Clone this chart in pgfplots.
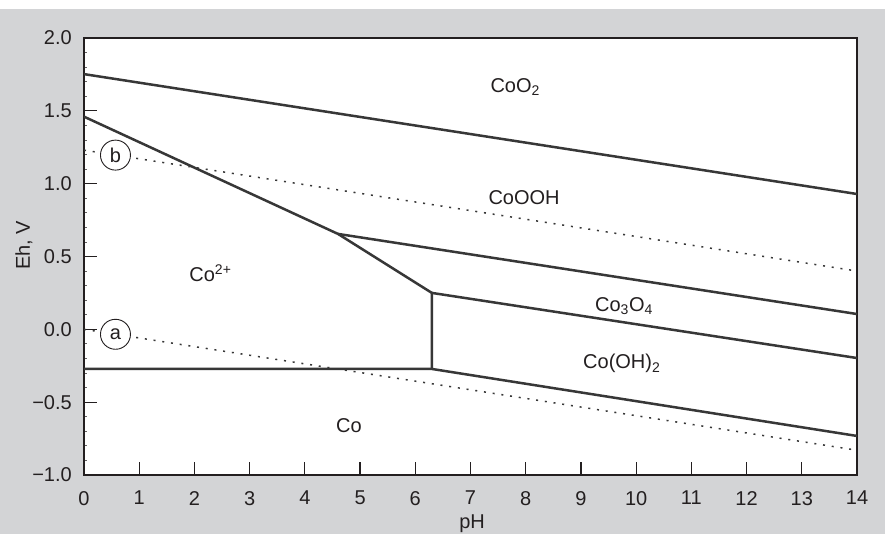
\documentclass[border=0pt]{standalone}
\usepackage{fontspec}
\setmainfont{Liberation Sans}
\usepackage{pgfplots}
\pgfplotsset{compat=1.18}
\definecolor{bg}{RGB}{211,212,214}
\definecolor{ln}{RGB}{55,55,55}
\definecolor{ax}{RGB}{35,31,32}
\begin{document}
\begin{tikzpicture}
\fill[white] (0pt,0pt) rectangle (885pt,534pt);
\fill[bg] (0pt,0pt) rectangle (885pt,525pt);
\useasboundingbox (0pt,0pt) rectangle (885pt,534pt);
\begin{axis}[
  at={(84pt,59pt)}, anchor=south west,
  scale only axis, width=773pt, height=437pt,
  xmin=0, xmax=14, ymin=-1, ymax=2,
  axis background/.style={fill=white},
  axis line style={color=ax, line width=2.6pt},
  xtick={0,1,...,14},
  ytick={-1,-0.5,0,0.5,1,1.5,2},
  yticklabels={−1.0,−0.5,0.0,0.5,1.0,1.5,2.0},
  minor y tick num=4,
  xtick pos=bottom, ytick pos=left,
  tick align=inside,
  major tick length=13pt, minor tick length=3pt,
  every tick/.style={color=ax, line width=1.2pt},
  minor tick style={line width=0.8pt, color=ax!70},
  /pgf/number format/assume math mode=true,
  tick label style={font=\fontsize{20}{24}\selectfont, text=ax, inner sep=0pt},
  xticklabel style={yshift=-16pt},
  yticklabel style={xshift=-12pt},
  xlabel={pH}, ylabel={Eh, V},
  label style={font=\fontsize{20}{24}\selectfont, text=ax, inner sep=0pt},
  xlabel style={at={(axis description cs:0.502,-0.090)}, anchor=north},
  ylabel style={at={(axis description cs:-0.0776,0.526)}, anchor=center},
]
% dotted water lines
\addplot[ln, line width=1.5pt, dash pattern=on 2pt off 6.8pt] coordinates {(0,1.23) (14,0.40)};
\addplot[ln, line width=1.5pt, dash pattern=on 2pt off 6.8pt] coordinates {(0,0.0) (14,-0.83)};
% boundaries
\addplot[ln, line width=2.5pt] coordinates {(0,1.752) (14,0.929)};
\addplot[ln, line width=2.5pt, line join=round] coordinates {(0,1.46) (4.60,0.655) (6.30,0.25) (6.30,-0.272)};
\addplot[ln, line width=2.5pt] coordinates {(4.60,0.655) (14,0.105)};
\addplot[ln, line width=2.5pt] coordinates {(6.30,0.25) (14,-0.197)};
\addplot[ln, line width=2.5pt, line join=round] coordinates {(0,-0.272) (6.30,-0.272) (14,-0.732)};
% circle markers
\node[circle, draw=ax, line width=0.9pt, fill=white, minimum size=30pt, inner sep=0pt, font=\fontsize{20}{24}\selectfont, text=ax] at (axis cs:0.57,1.196) {b};
\node[circle, draw=ax, line width=0.9pt, fill=white, minimum size=30pt, inner sep=0pt, font=\fontsize{20}{24}\selectfont, text=ax] at (axis cs:0.57,-0.034) {a};
% region labels
\begin{scope}[every node/.style={font=\fontsize{20}{24}\selectfont, text=ax, anchor=base, inner sep=0pt}]
\node at (axis cs:7.81,1.626) {CoO\textsubscript{2}};
\node at (axis cs:7.97,0.854) {CoOOH};
\node at (axis cs:2.29,0.325) {Co\textsuperscript{2+}};
\node at (axis cs:9.78,0.121) {Co\textsubscript{3}O\textsubscript{4}};
\node at (axis cs:9.74,-0.272) {Co(OH)\textsubscript{2}};
\node at (axis cs:4.80,-0.705) {Co};
\end{scope}
\end{axis}
\end{tikzpicture}
\end{document}
